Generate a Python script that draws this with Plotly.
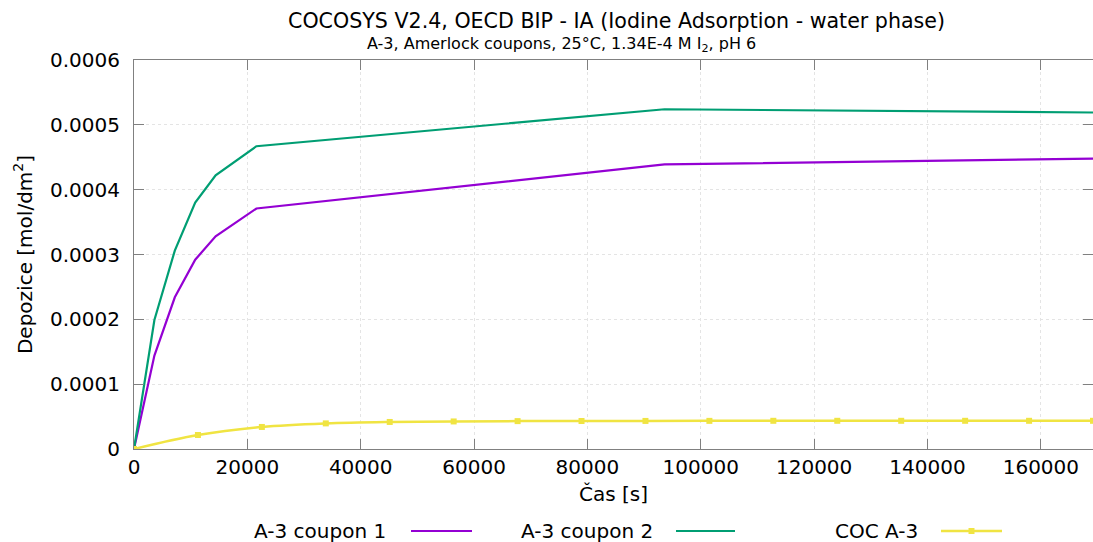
import plotly.graph_objects as go

# ---- data ----
t_coupon = [0, 3600, 7200, 10800, 14400, 21600, 93600, 169200]
coupon1 = [0, 1.44e-4, 2.34e-4, 2.92e-4, 3.28e-4, 3.71e-4, 4.39e-4, 4.48e-4]
coupon2 = [0, 1.99e-4, 3.06e-4, 3.80e-4, 4.22e-4, 4.67e-4, 5.24e-4, 5.19e-4]

t_coc = [0, 11280, 22560, 33840, 45120, 56400, 67680, 78960, 90240,
         101520, 112800, 124080, 135360, 146640, 157920, 169200]
coc = [0, 2.16e-5, 3.40e-5, 3.95e-5, 4.17e-5, 4.25e-5, 4.30e-5, 4.32e-5,
       4.33e-5, 4.34e-5, 4.35e-5, 4.35e-5, 4.35e-5, 4.35e-5, 4.35e-5, 4.35e-5]

series_names = ["A-3 coupon 1", "A-3 coupon 2", "COC A-3"]
x_tick_vals = [0, 20000, 40000, 60000, 80000, 100000, 120000, 140000, 160000]
x_tick_text = ["0", "20000", "40000", "60000", "80000", "100000", "120000", "140000", "160000"]
y_tick_vals = [0, 0.0001, 0.0002, 0.0003, 0.0004, 0.0005, 0.0006]
y_tick_text = ["0", "0.0001", "0.0002", "0.0003", "0.0004", "0.0005", "0.0006"]

PURPLE = "#9400d3"
GREEN = "#009e73"
YELLOW = "#f0e442"
FONT = "DejaVu Sans"

W, H = 1093, 542
L, R, T, B = 134, 0, 60, 93

fig = go.Figure()
fig.add_trace(go.Scatter(x=t_coupon, y=coupon1, mode="lines", name=series_names[0],
                         line=dict(color=PURPLE, width=2.2)))
fig.add_trace(go.Scatter(x=t_coupon, y=coupon2, mode="lines", name=series_names[1],
                         line=dict(color=GREEN, width=2.2)))
fig.add_trace(go.Scatter(x=t_coc, y=coc, mode="lines+markers", name=series_names[2],
                         line=dict(color=YELLOW, width=2.5, shape="spline"),
                         marker=dict(symbol="square", size=6, color=YELLOW)))

axis_common = dict(
    showline=True, linecolor="#808080", linewidth=1, mirror="allticks",
    ticks="inside", ticklen=10, tickcolor="#808080", tickwidth=1,
    showgrid=True, gridcolor="#e4e4e4", griddash="dot", gridwidth=1,
    zeroline=False, tickfont=dict(family=FONT, size=20, color="#000"),
)

fig.update_xaxes(range=[0, 169200], tickvals=x_tick_vals, ticktext=x_tick_text,
                 title=dict(text="Čas [s]", font=dict(family=FONT, size=20, color="#000"),
                            standoff=8),
                 **axis_common)
fig.update_yaxes(range=[0, 0.0006], tickvals=y_tick_vals, ticktext=y_tick_text,
                 ticklabelstandoff=9,
                 title=dict(text="Depozice [mol/dm<sup>2</sup>]",
                            font=dict(family=FONT, size=20, color="#000"), standoff=12),
                 **axis_common)

pw = W - L - R
ph = H - T - B


def px(xp):
    return (xp - L) / pw


def py(yp):
    return (H - B - yp) / ph


annotations = [
    dict(text="COCOSYS V2.4, OECD BIP - IA (Iodine Adsorption - water phase)",
         x=px(616), y=py(21), xref="paper", yref="paper", showarrow=False,
         xanchor="center", yanchor="middle", font=dict(family=FONT, size=20.6, color="#000")),
    dict(text="A-3, Amerlock coupons, 25°C, 1.34E-4 M I<sub>2</sub>, pH 6",
         x=px(561), y=py(45), xref="paper", yref="paper", showarrow=False,
         xanchor="center", yanchor="middle", font=dict(family=FONT, size=16, color="#000")),
]
shapes = []
legend_items = [
    (series_names[0], 388, 411, 472, PURPLE, False),
    (series_names[1], 655, 676, 735, GREEN, False),
    (series_names[2], 920, 941, 1002, YELLOW, True),
]
ly = 531
for name, tx, lx0, lx1, col, mk in legend_items:
    annotations.append(dict(text=name, x=px(tx), y=py(ly), xref="paper", yref="paper",
                            showarrow=False, xanchor="right", yanchor="middle",
                            font=dict(family=FONT, size=20, color="#000")))
    shapes.append(dict(type="line", xref="paper", yref="paper",
                       x0=px(lx0), x1=px(lx1), y0=py(ly), y1=py(ly),
                       line=dict(color=col, width=2.5 if mk else 2.2)))
    if mk:
        cx = (lx0 + lx1) / 2
        shapes.append(dict(type="rect", xref="paper", yref="paper",
                           x0=px(cx - 3), x1=px(cx + 3), y0=py(ly - 3), y1=py(ly + 3),
                           fillcolor=col, line=dict(width=0)))

fig.update_layout(
    width=W, height=H, margin=dict(l=L, r=R, t=T, b=B),
    paper_bgcolor="white", plot_bgcolor="white",
    showlegend=False, annotations=annotations, shapes=shapes,
    font=dict(family=FONT, color="#000"),
)

fig.write_html("out.html", config={"displayModeBar": False},
               post_script="document.body.style.margin='0px';document.body.style.overflow='hidden';")
